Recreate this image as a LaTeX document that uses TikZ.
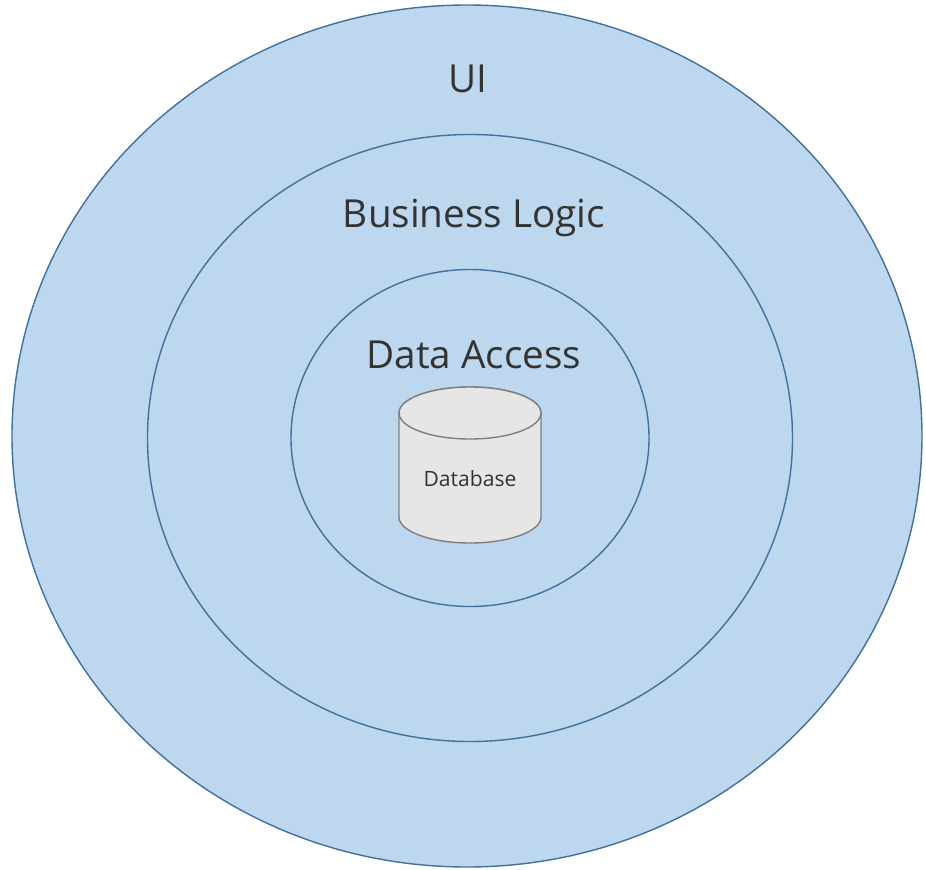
\documentclass[tikz,border=0pt]{standalone}
\usepackage{fontspec}
\setmainfont{Open Sans}
\usetikzlibrary{shapes.geometric, positioning}
\definecolor{layerfill}{HTML}{BDD7EE}
\definecolor{layerline}{HTML}{41719C}
\definecolor{dbfill}{HTML}{E7E6E6}
\definecolor{dbline}{HTML}{7F7F7F}
\definecolor{labeltext}{HTML}{333333}

\begin{document}
\begin{tikzpicture}[x=0.02cm, y=-0.02cm,
    layer/.style={ellipse, draw=layerline, fill=layerfill, line width=0.8pt, inner sep=0pt},
    layerlabel/.style={text=labeltext, font=\fontsize{22}{26}\selectfont},
    dbshape/.style={draw=dbline, fill=dbfill, line width=0.8pt}]
  \useasboundingbox (0,0) rectangle (926,869);
  % layers, outside in
  \node[layer, minimum width=910*0.02cm, minimum height=862*0.02cm] (ui) at (467,436) {};
  \node[layer, minimum width=645*0.02cm, minimum height=607*0.02cm] (logic) at (470,438) {};
  \node[layer, minimum width=358*0.02cm, minimum height=337*0.02cm] (access) at (470,438) {};
  % labels
  \node[layerlabel] (uilabel) at (468,79) {UI};
  \node[layerlabel] (logiclabel) at (474,218) {Business Logic};
  \node[layerlabel] (accesslabel) at (474,355) {Data Access};
  % store
  \path[dbshape] (399,413) -- (399,517) arc[start angle=180, end angle=360, x radius=71, y radius=-26]
    -- (541,413) arc[start angle=0, end angle=180, x radius=71, y radius=-26] -- cycle;
  \draw[dbshape] (470,413) ellipse[x radius=71, y radius=26];
  \node[text=labeltext, font=\fontsize{12}{14}\selectfont] (db) at (470,479) {Database};
\end{tikzpicture}
\end{document}
